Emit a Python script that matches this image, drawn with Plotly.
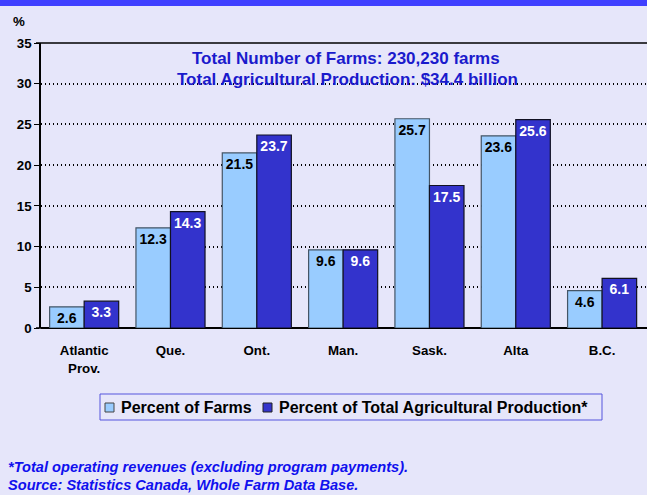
import plotly.graph_objects as go

provinces = ['Atlantic<br>Prov.', 'Que.', 'Ont.', 'Man.', 'Sask.', 'Alta', 'B.C.']
pct_farms = [2.6, 12.3, 21.5, 9.6, 25.7, 23.6, 4.6]
pct_production = [3.3, 14.3, 23.7, 9.6, 17.5, 25.6, 6.1]
y_ticks = [0, 5, 10, 15, 20, 25, 30, 35]
series_names = ['Percent of Farms', 'Percent of Total Agricultural Production*']

W, H = 647, 495
L, R, T, B = 41, 0, 43, 167
PW, PH = W - L - R, H - T - B

BG = '#e6e6fa'
LIGHT = '#99ccff'
DARK = '#3333cc'
FONT = 'Liberation Sans, Arial, sans-serif'


def px(x):
    return (x - L) / PW


def py(y):
    return 1 - (y - T) / PH


def note(text, x, y, size, color, xanchor='center'):
    return dict(text=text, xref='paper', yref='paper', x=px(x), y=py(y),
                xanchor=xanchor, yanchor='middle', showarrow=False,
                font=dict(size=size, color=color))


def box(x0, y0, x1, y1, fill, line, width=1):
    return dict(type='rect', xref='paper', yref='paper', x0=px(x0), x1=px(x1),
                y0=py(y0), y1=py(y1), fillcolor=fill, line=dict(color=line, width=width))


fig = go.Figure()

fig.add_trace(go.Bar(
    x=provinces, y=pct_farms, name=series_names[0],
    marker=dict(color=LIGHT, line=dict(color='#445566', width=1.2)),
    texttemplate='<b>%{y:.1f}</b>', textposition='inside', insidetextanchor='end',
    textangle=0, constraintext='none',
    textfont=dict(color='black', size=14, family=FONT)
))
fig.add_trace(go.Bar(
    x=provinces, y=pct_production, name=series_names[1],
    marker=dict(color=DARK, line=dict(color='#111122', width=1.2)),
    texttemplate='<b>%{y:.1f}</b>', textposition='inside', insidetextanchor='end',
    textangle=0, constraintext='none',
    textfont=dict(color='white', size=14, family=FONT)
))

# legend drawn by hand so it stays as compact as the original
legend_shapes = [
    box(100, 394, 602, 420, BG, '#5555dd'),
    box(105, 403, 114, 412, LIGHT, '#444444'),
    box(263, 403, 272, 412, DARK, '#222222'),
]
legend_notes = [
    note('<b>%s</b>' % series_names[0], 119, 407.5, 16, 'black', 'left'),
    note('<b>%s</b>' % series_names[1], 277, 407.5, 16, 'black', 'left'),
]

fig.update_layout(
    width=W, height=H,
    margin=dict(l=L, r=R, t=T, b=B),
    paper_bgcolor=BG, plot_bgcolor=BG,
    font=dict(family=FONT, color='black'),
    barmode='group', bargap=0.2, bargroupgap=0,
    showlegend=False,
    xaxis=dict(
        range=[-0.5, 6.52], showline=False, ticks='',
        tickvals=provinces, ticktext=['<b>%s</b>' % p for p in provinces],
        tickfont=dict(size=13.3, family=FONT),
        ticklabelstandoff=13
    ),
    yaxis=dict(
        range=[0, 35], tickvals=y_ticks, ticktext=['<b>%d</b>' % v for v in y_ticks],
        showline=True, linecolor='black',
        linewidth=1.5, ticks='outside', ticklen=5, tickcolor='black',
        showgrid=True, gridcolor='black', gridwidth=1.5, griddash='1px,3px',
        zeroline=True, zerolinecolor='black', zerolinewidth=1.5,
        tickfont=dict(size=13.3, family=FONT)
    ),
    shapes=[
        dict(type='line', xref='paper', yref='paper', x0=px(36), x1=1, y0=1, y1=1,
             line=dict(color='black', width=1.5)),
        dict(type='line', xref='paper', yref='paper', x0=px(36), x1=0, y0=0, y1=0,
             line=dict(color='black', width=1.5)),
        dict(type='rect', xref='paper', yref='paper', x0=px(0), x1=px(W),
             y0=py(0), y1=py(6), fillcolor='#4040ff', line=dict(width=0), layer='above'),
    ] + legend_shapes,
    annotations=[
        note('<b>%</b>', 19, 22, 13.3, 'black'),
        note('<b>Total Number of Farms: 230,230 farms</b>', 346, 59, 17, '#1a1acc'),
        note('<b>Total Agricultural Production: $34.4 billion</b>', 347, 80, 17, '#1a1acc'),
        note('<b><i>*Total operating revenues (excluding program payments).</i></b>',
             6, 467, 14.6, '#1010ee', 'left'),
        note('<b><i>Source: Statistics Canada, Whole Farm Data Base.</i></b>',
             6, 485, 14.6, '#1010ee', 'left'),
    ] + legend_notes
)

fig.write_html("out.html", config={'displayModeBar': False},
               post_script="document.body.style.margin='0';")
